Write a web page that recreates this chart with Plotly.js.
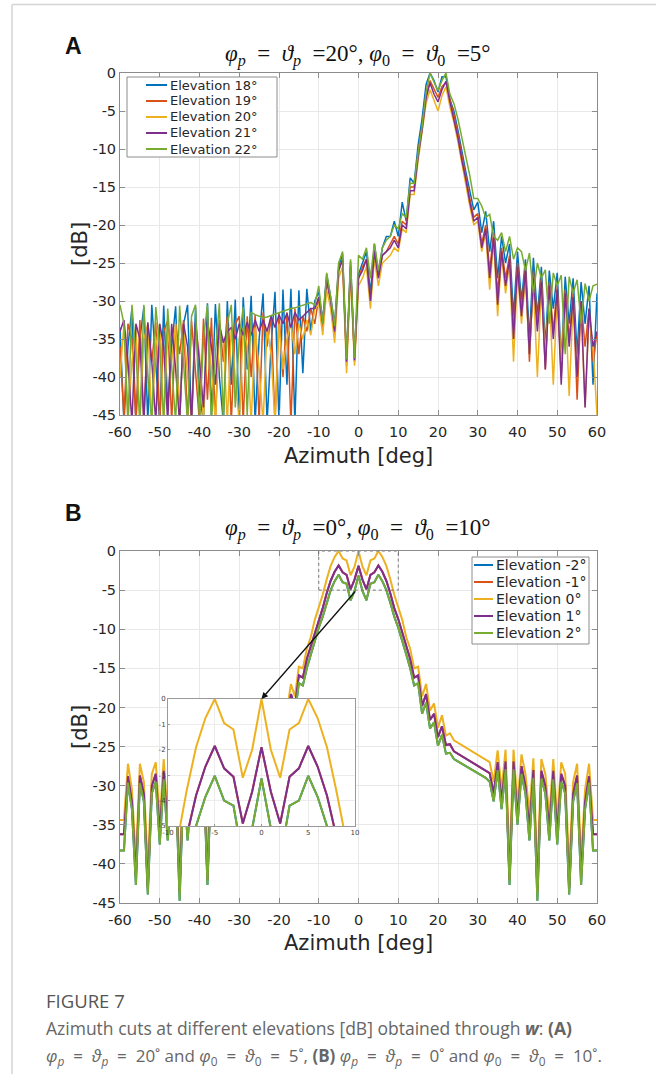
<!DOCTYPE html>
<html><head><meta charset="utf-8">
<script src="https://cdn.plot.ly/plotly-3.0.1.min.js"></script>
<style>html,body{margin:0;padding:0;background:#fff}#chart{width:656px;height:1074px}</style>
</head><body><div id="chart"></div>
<script>
// ---------- DATA ----------
const azimuth = [-60,-59,-58,-57,-56,-55,-54,-53,-52,-51,-50,-49,-48,-47,-46,-45,-44,-43,-42,-41,
-40,-39,-38,-37,-36,-35,-34,-33,-32,-31,-30,-29,-28,-27,-26,-25,-24,-23,-22,-21,
-20,-19,-18,-17,-16,-15,-14,-13,-12,-11,-10,-9,-8,-7,-6,-5,-4,-3,-2,-1,0,
1,2,3,4,5,6,7,8,9,10,11,12,13,14,15,16,17,18,19,20,21,22,23,24,25,26,27,28,29,30,
31,32,33,34,35,36,37,38,39,40,41,42,43,44,45,46,47,48,49,50,51,52,53,54,55,56,57,58,59,60];

const xTickVals = [-60,-50,-40,-30,-20,-10,0,10,20,30,40,50,60];
const xTickText = ['-60','-50','-40','-30','-20','-10','0','10','20','30','40','50','60'];
const yTickVals = [0,-5,-10,-15,-20,-25,-30,-35,-40,-45];
const yTickText = ['0','-5','-10','-15','-20','-25','-30','-35','-40','-45'];
const insetXTickVals = [-10,-5,0,5,10];
const insetXTickText = ['-10','-5','0','5','10'];
const insetYTickVals = [0,-1,-2,-3,-4,-5];
const insetYTickText = ['0','-1','-2','-3','-4','-5'];

// Panel A: phi_p = theta_p = 20, phi_0 = theta_0 = 5
const aNames = ['Elevation 18°','Elevation 19°','Elevation 20°','Elevation 21°','Elevation 22°'];
const aElev18 = [-33.5,-46,-36,-31.0,-46,-35,-30.8,-46,-30.5,-38,
-46,-30.6,-44,-36,-30.7,-46,-33,-30.5,-46,-30.8,
-42,-46,-30.3,-45,-30.4,-40,-46,-30.0,-41,-29.8,
-46,-29.5,-39,-29.3,-46,-35,-29.0,-46,-36,-28.8,
-46,-28.5,-41,-28.4,-46,-28.6,-39.5,-28.4,-34,-30,
-28.8,-32.5,-26.5,-29.5,-33,-25.5,-23.8,-38,-24.8,-37.5,
-26.5,
-25,-23.5,-29,-22.5,-26.5,-23,-21.5,-21.5,-19.5,-21.5,
-17,-19.5,-13.8,-14.5,-9.5,-6,-1.5,0,-1.0,-2.5,
-0.5,-0.5,-3.5,-5,-7.5,-10.5,-13,-15.5,-18,-17,
-21,-18.2,-23.5,-19.5,-27,-21.5,-25,-22.5,-32,-23.5,
-30,-24.5,-35,-24.3,-32,-25.5,-36,-26,-31,-26.3,
-38,-26.8,-33,-27,-37,-27.5,-33,-28,-41,-29];
const aElev19 = [-36,-45.5,-33,-35,-46,-32.5,-46,-33,-38,-32.8,
-46,-34,-32.6,-46,-33,-37,-32.5,-46,-32.6,-39,
-46,-32.3,-43,-32.2,-46,-32.5,-38,-32.0,-46,-33,
-32,-46,-32,-40,-31.8,-46,-31.5,-36,-32,-46,
-31.5,-40,-31.5,-46,-31,-37,-32,-34,-31,-33,
-29.5,-33.5,-27.5,-30,-34.5,-26,-24.5,-38.5,-25.5,-38,
-27,
-25.5,-24.5,-30,-23.5,-27,-24,-23.5,-22.5,-21.5,-22.5,
-19.5,-20,-15,-15,-10.5,-7,-3,-1,-2.0,-3.2,
-1.8,-1.2,-3.5,-5.5,-8,-11,-13.5,-16.5,-19,-18.5,
-22.5,-20,-26,-21,-29,-23,-27,-24,-34,-25,
-31,-25.5,-38,-26,-33,-27,-39,-27.5,-34,-28,
-40,-28.5,-35,-29,-43,-30,-36,-31,-38,-34.2];
const aElev20 = [-40,-33,-46,-38,-33.5,-46,-35,-33,-46,-36,
-33,-46,-34,-38,-33,-46,-33.5,-40,-46,-33.5,
-37,-46,-33.5,-39,-46,-34,-35,-46,-33.5,-40,
-46,-33.5,-36,-46,-33.5,-39,-46,-33.5,-37,-46,
-33,-39,-35,-33,-37,-33,-35,-32.5,-34.5,-31,
-30.5,-34.5,-28.5,-31,-35.5,-27,-25.5,-39.5,-26.5,-38.5,
-28,
-27,-25.5,-31,-24.5,-28,-25,-24.5,-24,-23,-23.5,
-20.5,-21,-16,-16,-11.5,-8,-4,-2.2,-3.5,-5.0,
-3.0,-1.8,-4.5,-6.5,-9,-12,-14.5,-17.5,-20,-19.5,
-23.5,-21,-28.5,-22,-32,-24,-29,-25,-38,-26,
-33,-27,-37,-27.5,-40,-28,-37,-28.5,-41,-29,
-38,-29.5,-42.5,-30,-39,-31,-44,-32,-36,-45];
const aElev21 = [-34,-32.5,-38,-46,-33,-35,-46,-32.8,-38,-46,
-33,-36,-46,-33,-39,-46,-33,-36,-46,-32.8,
-38,-44,-32.6,-36,-41,-33,-35.5,-34,-33.5,-35,
-33,-34.5,-32.8,-34.5,-32.5,-34,-32.5,-34,-32,-33.5,
-31.8,-33,-31.6,-33.5,-31.5,-32.5,-32,-31.5,-31,-31,
-29.5,-33,-27,-30,-34,-26,-24.5,-38,-25.5,-37.8,
-27,
-26,-24.5,-30,-23.5,-27,-24,-23.5,-23,-22,-23,
-20,-20.5,-15.5,-15.5,-11,-7.5,-3.3,-1.3,-2.8,-3.8,
-2.2,-1.1,-3.8,-6,-8.5,-11.5,-14,-17,-19.5,-19,
-23,-20.5,-27,-21.5,-30.5,-23.5,-28,-24.5,-35,-25.5,
-32,-26,-37,-27,-34,-27.5,-39,-28,-35,-28.5,
-41,-29,-36,-29.5,-40,-30,-44,-31,-36,-34];
const aElev22 = [-30.5,-33,-46,-30.5,-37,-46,-30.5,-40,-46,-30.8,
-36,-46,-31,-39,-46,-30.6,-38,-46,-32,-30.5,
-46,-35,-30.5,-46,-37,-30.3,-46,-33,-30.5,-44,
-35,-30.8,-45,-31.5,-31.8,-32,-32.2,-32.1,-31.9,-31.7,
-31.5,-31.3,-31.2,-31.0,-30.9,-30.7,-30.5,-30.3,-30.2,-30.5,
-28,-33,-26.3,-29.5,-33.3,-25,-23.5,-37.7,-24.5,-37.5,
-24,
-24.5,-23,-27,-22.4,-26,-23,-22,-21.5,-20,-20.5,
-18.5,-19,-14.5,-14.5,-10.5,-7,-2.5,0,-1.2,-2.3,
-1.0,0,-2.8,-4.0,-6.0,-8.5,-11,-13.5,-16.5,-16.5,
-17.5,-19,-18.6,-21.5,-22,-21,-23.5,-21.5,-24.5,-23,
-23.5,-26,-23.7,-29,-25,-27,-25.9,-33,-26.3,-28,
-26.6,-37,-26.8,-29,-27.2,-33,-27.7,-30,-28,-27.8];

// Panel B: phi_p = theta_p = 0, phi_0 = theta_0 = 10
const bNames = ['Elevation -2°','Elevation -1°','Elevation 0°','Elevation 1°','Elevation 2°'];
const bElev0 = [-34.4,-34.4,-27.2,-30.5,-39.5,-27.2,-29.5,-40.5,-28.5,-27.0,
-34.5,-26.6,-34.0,-28.5,-26.6,-41.5,-26.5,-33.5,-28.5,-26.0,
-32.5,-25.4,-40.0,-25.4,-30.5,-25.5,-29.5,-27.0,-26.6,-26.3,
-26.0,-25.7,-25.4,-25.1,-24.8,-24.5,-24.2,-23.3,-23.6,-21.0,
-22.6,-19.5,-20.4,-17.0,-18.6,-14.8,-15.0,-12.5,-11.0,-8.8,
-7.2,-5.6,-3.6,-1.9,-0.75,0,-0.95,-1.2,-3.1,-2.0,
0,
-2.0,-3.1,-1.2,-0.95,0,-0.75,-1.9,-3.6,-5.6,-7.2,
-8.8,-11.0,-12.5,-15.0,-14.8,-18.6,-17.0,-20.4,-19.5,-22.6,
-21.0,-23.6,-23.3,-24.2,-24.5,-24.8,-25.1,-25.4,-25.7,-26.0,
-26.3,-26.6,-27.0,-29.5,-25.5,-30.5,-25.4,-40.0,-25.4,-32.5,
-26.0,-28.5,-33.5,-26.5,-41.5,-26.6,-28.5,-34.0,-26.6,-34.5,
-27.0,-28.5,-40.5,-29.5,-27.2,-39.5,-30.5,-27.2,-34.4,-34.4];
const bElev1 = [-36.2,-36.2,-28.8,-32.0,-41.5,-28.7,-31.0,-43.0,-30.0,-28.5,
-36.0,-28.1,-35.5,-30.0,-28.1,-43.5,-28.0,-35.5,-30.0,-27.5,
-34.0,-26.9,-42.0,-26.9,-32.0,-27.0,-31.0,-28.4,-28.0,-27.7,
-27.4,-27.1,-26.8,-26.5,-26.2,-25.9,-25.6,-24.7,-24.8,-22.4,
-23.8,-20.8,-21.6,-18.3,-19.8,-15.9,-16.2,-13.8,-12.2,-10.3,
-8.7,-7.3,-5.4,-3.8,-2.66,-1.85,-2.73,-3.06,-4.9,-3.65,
-1.9,
-3.65,-4.9,-3.06,-2.73,-1.85,-2.66,-3.8,-5.4,-7.3,-8.7,
-10.3,-12.2,-13.8,-16.2,-15.9,-19.8,-18.3,-21.6,-20.8,-23.8,
-22.4,-24.8,-24.7,-25.6,-25.9,-26.2,-26.5,-26.8,-27.1,-27.4,
-27.7,-28.0,-28.4,-31.0,-27.0,-32.0,-26.9,-42.0,-26.9,-34.0,
-27.5,-30.0,-35.5,-28.0,-43.5,-28.1,-30.0,-35.5,-28.1,-36.0,
-28.5,-30.0,-43.0,-31.0,-28.7,-41.5,-32.0,-28.8,-36.2,-36.2];
const bElev2 = [-38.3,-38.3,-29.6,-33.0,-42.7,-29.7,-32.0,-43.9,-31.0,-29.5,
-37.5,-29.2,-37.0,-31.0,-29.1,-44.7,-29.0,-37.0,-31.0,-28.5,
-35.0,-27.9,-42.7,-27.9,-33.0,-28.0,-32.0,-29.5,-29.0,-28.7,
-28.4,-28.1,-27.8,-27.5,-27.2,-26.9,-26.6,-25.8,-25.9,-23.5,
-24.9,-21.9,-22.7,-19.4,-20.8,-16.9,-17.2,-15.0,-13.2,-11.4,
-9.8,-8.4,-6.6,-5.0,-3.85,-3.03,-4.0,-4.2,-6.3,-5.1,
-3.13,
-5.1,-6.3,-4.2,-4.0,-3.03,-3.85,-5.0,-6.6,-8.4,-9.8,
-11.4,-13.2,-15.0,-17.2,-16.9,-20.8,-19.4,-22.7,-21.9,-24.9,
-23.5,-25.9,-25.8,-26.6,-26.9,-27.2,-27.5,-27.8,-28.1,-28.4,
-28.7,-29.0,-29.5,-32.0,-28.0,-33.0,-27.9,-42.7,-27.9,-35.0,
-28.5,-31.0,-37.0,-29.0,-44.7,-29.1,-31.0,-37.0,-29.2,-37.5,
-29.5,-31.0,-43.9,-32.0,-29.7,-42.7,-33.0,-29.6,-38.3,-38.3];
// elevations -2 and -1 coincide with +2 and +1 (symmetric cut), drawn underneath
const bElevM2 = bElev2.slice();
const bElevM1 = bElev1.slice();

// ---------- STYLE / LAYOUT ----------
const W = 656, H = 1074;
const PX = x => x / W, PY = y => 1 - y / H;
const colors = ['#0072BD', '#D95319', '#EDB120', '#7E2F8E', '#77AC30'];
const aSeries = [aElev18, aElev19, aElev20, aElev21, aElev22];
const bSeries = [bElevM2, bElevM1, bElev0, bElev1, bElev2];
const tickFont = {family: 'DejaVu Sans, sans-serif', size: 14.5, color: '#262626'};
const NB = '\u00a0';

const traces = [];
aSeries.forEach((s, i) => traces.push({x: azimuth, y: s, xaxis: 'x', yaxis: 'y', type: 'scatter', mode: 'lines',
  name: aNames[i], showlegend: false, line: {color: colors[i], width: 1.5}}));
bSeries.forEach((s, i) => traces.push({x: azimuth, y: s, xaxis: 'x2', yaxis: 'y2', type: 'scatter', mode: 'lines',
  name: bNames[i], showlegend: false, line: {color: colors[i], width: 2}}));
bSeries.forEach((s, i) => traces.push({x: azimuth, y: s, xaxis: 'x3', yaxis: 'y3', type: 'scatter', mode: 'lines',
  name: bNames[i], showlegend: false, line: {color: colors[i], width: 2}}));

function mainX(anchor) {
  return {domain: [PX(120), PX(597)], range: [-60, 60], anchor: anchor, tickmode: 'array',
    tickvals: xTickVals, ticktext: xTickText, ticks: 'inside', ticklen: 5, tickcolor: '#8c8c8c',
    showline: true, linecolor: '#8c8c8c', linewidth: 1, mirror: 'allticks', showgrid: true,
    gridcolor: '#e8e8e8', gridwidth: 1, zeroline: false, tickfont: tickFont, ticklabelstandoff: 4, fixedrange: true};
}
function mainY(dom, anchor) {
  return {domain: dom, range: [-45, 0], anchor: anchor, tickmode: 'array',
    tickvals: yTickVals, ticktext: yTickText, ticks: 'inside', ticklen: 5, tickcolor: '#8c8c8c',
    showline: true, linecolor: '#8c8c8c', linewidth: 1, mirror: 'allticks', showgrid: true,
    gridcolor: '#e8e8e8', gridwidth: 1, zeroline: false, tickfont: tickFont, fixedrange: true};
}
const insetFont = {family: 'DejaVu Sans, sans-serif', size: 7, color: '#444'};

const eq = NB + '= ';           // spaced equals as in the typeset title
const titleA = '<i>φ</i><sub><i>p</i></sub> ' + eq + NB + '<i>ϑ</i><sub><i>p</i></sub> ' + NB + '=20°, <i>φ</i><sub>0</sub> ' + eq + NB + '<i>ϑ</i><sub>0</sub> ' + NB + '=5°';
const titleB = '<i>φ</i><sub><i>p</i></sub> ' + eq + NB + '<i>ϑ</i><sub><i>p</i></sub> ' + NB + '=0°, <i>φ</i><sub>0</sub> ' + eq + NB + '<i>ϑ</i><sub>0</sub> ' + NB + '=10°';
const ce = ' ' + NB + '=' + NB + ' ';
const capLine2 = '<i>φ</i><sub><i>p</i></sub>' + ce + '<i>ϑ</i><sub><i>p</i></sub>' + ce + '20˚ and <i>φ</i><sub>0</sub>' + ce + '<i>ϑ</i><sub>0</sub>' + ce + '5˚, <b>(B)</b> <i>φ</i><sub><i>p</i></sub>' + ce + '<i>ϑ</i><sub><i>p</i></sub>' + ce + '0˚ and <i>φ</i><sub>0</sub>' + ce + '<i>ϑ</i><sub>0</sub>' + ce + '10˚.';

const annotations = [
  {text: '<b>A</b>', x: PX(73), y: PY(46), font: {family: 'Liberation Sans, Arial, sans-serif', size: 23, color: '#111'}},
  {text: '<b>B</b>', x: PX(73), y: PY(513), font: {family: 'Liberation Sans, Arial, sans-serif', size: 23, color: '#111'}},
  {text: titleA, x: PX(358), y: PY(56), font: {family: 'Liberation Serif, DejaVu Serif, serif', size: 23, color: '#111'}},
  {text: titleB, x: PX(358), y: PY(529), font: {family: 'Liberation Serif, DejaVu Serif, serif', size: 23, color: '#111'}},
  {text: '[dB]', x: PX(80), y: PY(244), textangle: -90, font: {family: 'DejaVu Sans, sans-serif', size: 21, color: '#262626'}},
  {text: '[dB]', x: PX(80), y: PY(727), textangle: -90, font: {family: 'DejaVu Sans, sans-serif', size: 21, color: '#262626'}},
  {text: 'Azimuth [deg]', x: PX(358.5), y: PY(456), font: {family: 'DejaVu Sans, sans-serif', size: 21, color: '#262626'}},
  {text: 'Azimuth [deg]', x: PX(358.5), y: PY(943), font: {family: 'DejaVu Sans, sans-serif', size: 21, color: '#262626'}},
  {text: 'FIGURE 7', x: PX(44), y: PY(1000), xanchor: 'left', font: {family: 'Open Sans, sans-serif', size: 18.5, color: '#555'}},
  {text: 'Azimuth cuts at different elevations [dB] obtained through <b><i>w</i></b>: <b>(A)</b>', x: PX(44), y: PY(1028), xanchor: 'left',
   font: {family: 'Open Sans, sans-serif', size: 17.5, color: '#666'}},
  {text: capLine2, x: PX(44), y: PY(1056), xanchor: 'left', font: {family: 'Open Sans, sans-serif', size: 17, color: '#666'}},
  // arrow from zoom box to inset
  {text: '', x: 0, y: 0, xref: 'x3', yref: 'y3', showarrow: true, ax: 95, ay: -109, arrowhead: 2, arrowsize: 1,
   arrowwidth: 1.3, arrowcolor: '#111', standoff: 0}
].map(a => Object.assign({xref: 'paper', yref: 'paper', showarrow: false, xanchor: 'center', yanchor: 'middle'}, a));

const shapes = [
  // outer figure frame
  {type: 'line', xref: 'paper', yref: 'paper', x0: PX(12), x1: 1, y0: PY(4.5), y1: PY(4.5), line: {color: '#d4d4d4', width: 1.5}},
  {type: 'line', xref: 'paper', yref: 'paper', x0: PX(12), x1: PX(12), y0: PY(4.5), y1: 0, line: {color: '#d4d4d4', width: 1.5}},
  // zoom region marker
  {type: 'rect', xref: 'x2', yref: 'y2', x0: -10, x1: 10, y0: -5, y1: 0, line: {color: '#777', width: 1, dash: 'dot'}, layer: 'above'}
];

// manual MATLAB-style legends
function legend(names, x0, y0, x1, y1, firstY, step, lx0, lx1, tx, fsize) {
  shapes.push({type: 'rect', xref: 'paper', yref: 'paper', x0: PX(x0), x1: PX(x1), y0: PY(y1), y1: PY(y0),
    fillcolor: '#fff', line: {color: '#8c8c8c', width: 1}, layer: 'above'});
  names.forEach((n, i) => {
    const yy = firstY + step * i;
    shapes.push({type: 'line', xref: 'paper', yref: 'paper', x0: PX(lx0), x1: PX(lx1), y0: PY(yy), y1: PY(yy),
      line: {color: colors[i], width: 2}, layer: 'above'});
    annotations.push({text: n, xref: 'paper', yref: 'paper', x: PX(tx), y: PY(yy), xanchor: 'left', yanchor: 'middle',
      showarrow: false, font: {family: 'DejaVu Sans, sans-serif', size: fsize, color: '#262626'}});
  });
}
legend(aNames, 127, 77, 277, 157, 85, 16, 146, 167, 168, 13);
legend(bNames, 472, 557, 589, 644, 565, 17, 474, 493, 494, 14);

const layout = {
  width: W, height: H, autosize: false,
  margin: {l: 0, r: 0, t: 0, b: 0, pad: 0},
  paper_bgcolor: '#fff', plot_bgcolor: '#fff',
  showlegend: false,
  xaxis: mainX('y'),
  yaxis: mainY([PY(415), PY(73)], 'x'),
  xaxis2: mainX('y2'),
  yaxis2: mainY([PY(903), PY(551)], 'x2'),
  xaxis3: {domain: [PX(168), PX(355)], range: [-10, 10], anchor: 'y3', tickmode: 'array',
    tickvals: insetXTickVals, ticktext: insetXTickText, ticks: 'inside', ticklen: 2, tickcolor: '#999',
    showline: true, linecolor: '#999', linewidth: 1, mirror: true, showgrid: true, gridcolor: '#ececec',
    zeroline: false, tickfont: insetFont, fixedrange: true},
  yaxis3: {domain: [PY(826), PY(699)], range: [-5, 0], anchor: 'x3', tickmode: 'array',
    tickvals: insetYTickVals, ticktext: insetYTickText, ticks: 'inside', ticklen: 2, tickcolor: '#999',
    showline: true, linecolor: '#999', linewidth: 1, mirror: true, showgrid: true, gridcolor: '#ececec',
    zeroline: false, tickfont: insetFont, fixedrange: true},
  annotations: annotations,
  shapes: shapes
};

Plotly.newPlot('chart', traces, layout, {displayModeBar: false, staticPlot: true});
</script>
</body></html>
